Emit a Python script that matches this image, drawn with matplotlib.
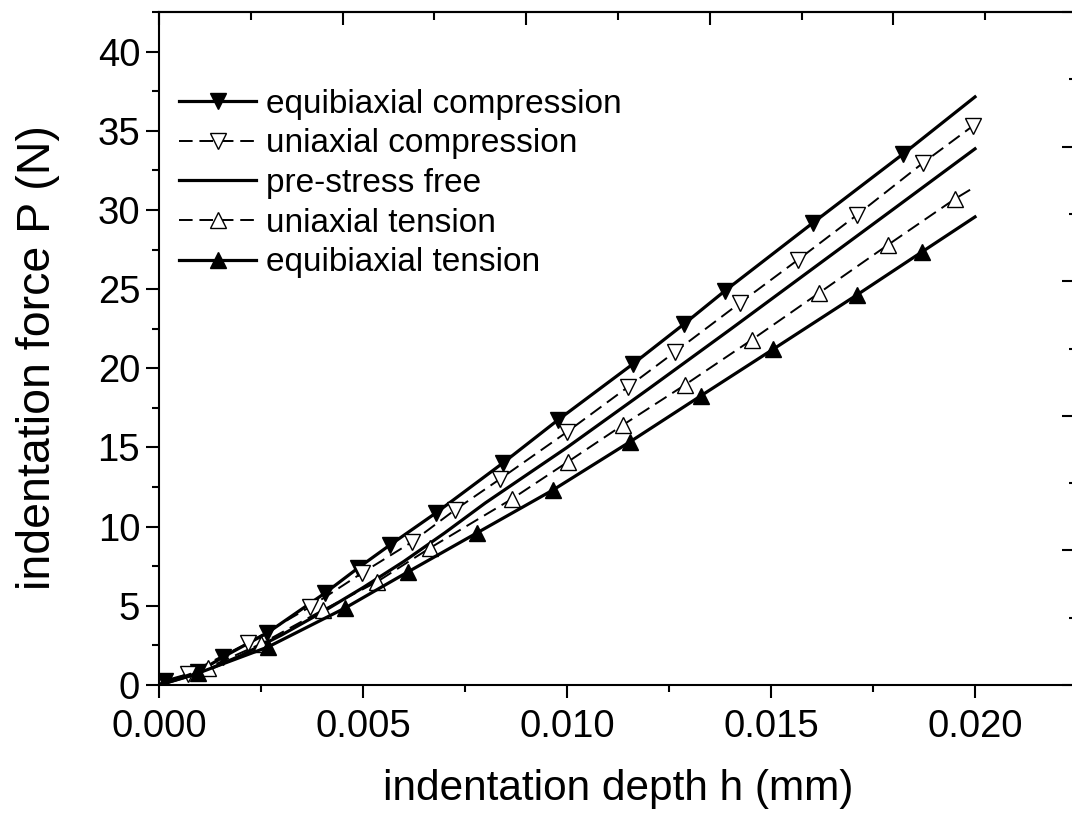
import matplotlib
matplotlib.use("Agg")
import matplotlib.pyplot as plt
from matplotlib.ticker import MultipleLocator, NullFormatter

plt.rcParams['font.family'] = ['Liberation Sans', 'DejaVu Sans']

# ---- data ----
labels = ["equibiaxial compression", "uniaxial compression", "pre-stress free",
          "uniaxial tension", "equibiaxial tension"]

h_ebc = [0, 0.00015, 0.00096, 0.00157, 0.00265, 0.00407, 0.00488, 0.00566, 0.00679,
         0.00843, 0.00978, 0.01162, 0.01287, 0.01387, 0.01603, 0.01824, 0.0200]
P_ebc = [0, 0.25, 0.82, 1.77, 3.28, 5.81, 7.39, 8.84, 10.87,
         14.02, 16.74, 20.28, 22.80, 24.89, 29.19, 33.54, 37.14]

h_uc = [0, 0.0007, 0.00218, 0.0037, 0.00498, 0.0062, 0.00725, 0.00836, 0.0100,
        0.0115, 0.01265, 0.01424, 0.01566, 0.01711, 0.01873, 0.01995]
P_uc = [0, 0.70, 2.65, 4.93, 7.08, 9.03, 11.05, 13.01, 15.98,
        18.83, 21.04, 24.13, 26.85, 29.69, 32.98, 35.31]

h_free = [0, 0.001, 0.002, 0.003, 0.004, 0.005, 0.006, 0.007, 0.008, 0.009,
          0.010, 0.012, 0.014, 0.016, 0.018, 0.020]
P_free = [0, 0.75, 1.85, 3.15, 4.6, 6.15, 7.8, 9.6, 11.5, 13.25,
          15.0, 18.7, 22.45, 26.25, 30.05, 33.86]

h_ut = [0, 0.0012, 0.0025, 0.00402, 0.00534, 0.00664, 0.00865, 0.01002, 0.01137,
        0.01289, 0.01453, 0.01618, 0.01787, 0.01951, 0.0200]
P_ut = [0, 1.10, 2.60, 4.74, 6.51, 8.65, 11.75, 14.09, 16.42,
        18.95, 21.80, 24.76, 27.80, 30.70, 31.46]

h_ebt = [0, 0.00096, 0.00267, 0.00456, 0.0061, 0.00779, 0.00966, 0.01154,
         0.01328, 0.01505, 0.01711, 0.0187, 0.0200]
P_ebt = [0, 0.75, 2.40, 4.86, 7.14, 9.60, 12.32, 15.35,
         18.26, 21.20, 24.64, 27.35, 29.56]

x_ticks = [0.000, 0.005, 0.010, 0.015, 0.020]
x_ticklabels = ["0.000", "0.005", "0.010", "0.015", "0.020"]
y_ticks = [0, 5, 10, 15, 20, 25, 30, 35, 40]

# ---- figure ----
W, H = 1072, 818
fig = plt.figure(figsize=(W / 100, H / 100), dpi=100)
left, right, top, bottom = 159, 1077, 12, 685
ax = fig.add_axes([left / W, (H - bottom) / H, (right - left) / W, (bottom - top) / H])

ax.set_xlim(0, 0.0225)
ax.set_ylim(0, 42.5)

solid_lw = 2.3
dash_lw = 1.4
dash = (7, 3.5)
ms = 12

ax.plot(h_ebc, P_ebc, color='black', lw=solid_lw, marker='v', ms=ms,
        mfc='black', mec='black', markevery=list(range(1, len(h_ebc) - 1)),
        label=labels[0], zorder=3)
ax.plot(h_uc, P_uc, color='black', lw=dash_lw, dashes=dash, marker='v', ms=ms,
        mfc='white', mec='black', mew=1.0, markevery=list(range(1, len(h_uc))),
        label=labels[1], zorder=3)
ax.plot(h_free, P_free, color='black', lw=solid_lw, label=labels[2], zorder=3)
ax.plot(h_ut, P_ut, color='black', lw=dash_lw, dashes=dash, marker='^', ms=ms,
        mfc='white', mec='black', mew=1.0, markevery=list(range(1, len(h_ut) - 1)),
        label=labels[3], zorder=3)
ax.plot(h_ebt, P_ebt, color='black', lw=solid_lw, marker='^', ms=ms,
        mfc='black', mec='black', markevery=list(range(1, len(h_ebt) - 1)),
        label=labels[4], zorder=3)

# ---- axes styling ----
for s in ax.spines.values():
    s.set_linewidth(1.5)

ax.set_xticks(x_ticks)
ax.set_xticklabels(x_ticklabels)
ax.set_yticks(y_ticks)
ax.xaxis.set_minor_locator(MultipleLocator(0.0025))
ax.yaxis.set_minor_locator(MultipleLocator(2.5))
ax.tick_params(which='major', direction='out', length=9.5, width=1.5,
               labelsize=27.5, top=False, right=False)
ax.tick_params(axis='x', which='major', pad=8)
ax.tick_params(axis='y', which='major', pad=4)
ax.tick_params(which='minor', direction='out', length=5, width=1.5,
               top=False, right=False)

ax.set_xlabel("indentation depth h (mm)", fontsize=30.5, labelpad=17)
ax.set_ylabel("indentation force P (N)", fontsize=33.5, labelpad=27)
ax.yaxis.label.set_y(0.486)

# top and right axes (independent scales, no labels)
sx = ax.secondary_xaxis('top', functions=(lambda x: x / 0.0045, lambda x: x * 0.0045))
sx.xaxis.set_major_locator(MultipleLocator(1))
sx.xaxis.set_minor_locator(MultipleLocator(0.5))
sx.xaxis.set_major_formatter(NullFormatter())
sx.tick_params(which='major', direction='in', length=9.5, width=1.5)
sx.tick_params(which='minor', direction='in', length=5.5, width=1.5)
sx.spines['top'].set_linewidth(1.5)

sy = ax.secondary_yaxis('right', functions=(lambda y: y / 8.5, lambda y: y * 8.5))
sy.yaxis.set_major_locator(MultipleLocator(1))
sy.yaxis.set_minor_locator(MultipleLocator(0.5))
sy.yaxis.set_major_formatter(NullFormatter())
sy.tick_params(which='major', direction='in', length=10.5, width=1.5)
sy.tick_params(which='minor', direction='in', length=6, width=1.5)
sy.spines['right'].set_linewidth(1.5)

leg = ax.legend(loc='upper left', bbox_to_anchor=(0.022, 0.886), frameon=False,
                fontsize=24, handlelength=2.3, handletextpad=0.3,
                labelspacing=0.26, numpoints=1, borderaxespad=0, borderpad=0)

fig.savefig("out.png", dpi=100)
